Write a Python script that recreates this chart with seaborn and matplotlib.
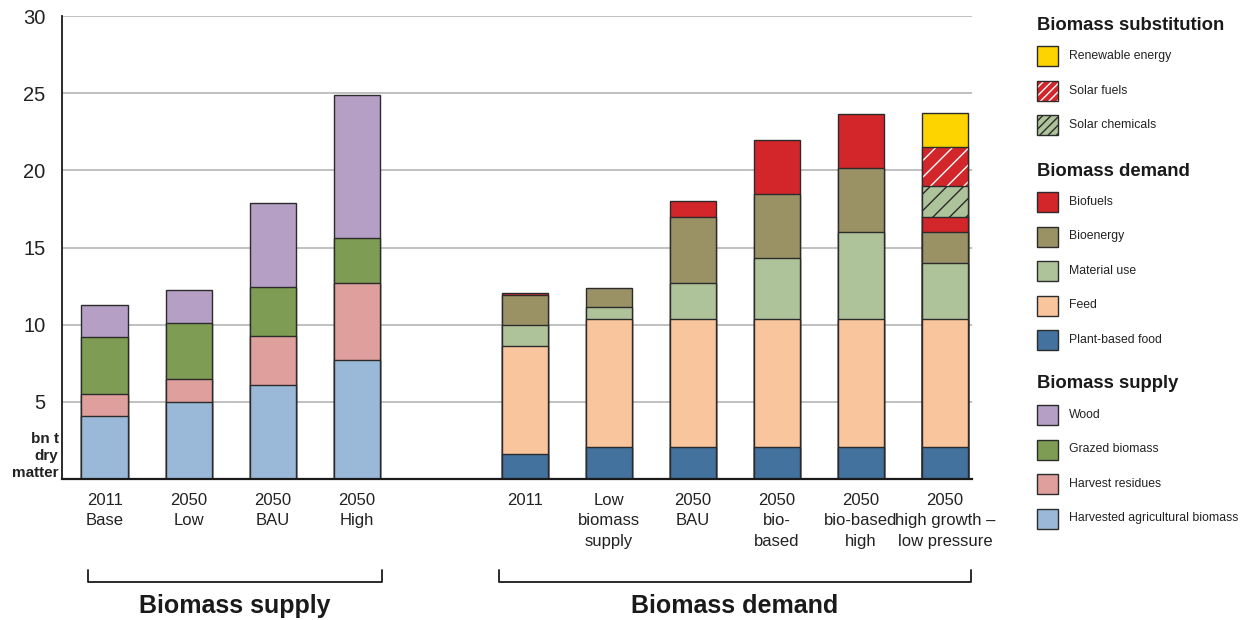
import pandas as pd
import seaborn as sns
import matplotlib.pyplot as plt
from matplotlib.patches import Rectangle

# scenario labels (x axis)
supply_labels = ['2011\nBase', '2050\nLow', '2050\nBAU', '2050\nHigh']
demand_labels = ['2011', 'Low\nbiomass\nsupply', '2050\nBAU', '2050\nbio-\nbased',
                 '2050\nbio-based\nhigh', '2050\nhigh growth –\nlow pressure']

# biomass supply, bn t dry matter (stacked bottom to top)
harvested_agri = [4.1, 5.0, 6.1, 7.7]
harvest_residues = [1.4, 1.5, 3.15, 5.0]
grazed_biomass = [3.7, 3.6, 3.2, 2.9]
wood = [2.1, 2.15, 5.45, 9.3]

# biomass demand + substitution (stacked bottom to top)
plant_food = [1.6, 2.1, 2.1, 2.1, 2.1, 2.1]
feed = [7.05, 8.25, 8.25, 8.25, 8.25, 8.25]
material_use = [1.3, 0.8, 2.35, 3.95, 5.65, 3.65]
bioenergy = [2.0, 1.2, 4.3, 4.15, 4.15, 2.0]
biofuels = [0.13, 0, 1.0, 3.5, 3.5, 1.0]
solar_chemicals = [0, 0, 0, 0, 0, 2.0]
solar_fuels = [0, 0, 0, 0, 0, 2.5]
renewable_energy = [0, 0, 0, 0, 0, 2.2]

EDGE = '#2b2b2b'
# name: (face colour, hatch, hatch colour)
styles = {
    'Renewable energy': ('#fdd300', None, None),
    'Solar fuels': ('#d3262a', '//', 'white'),
    'Solar chemicals': ('#adc39a', '//', '#2b2b2b'),
    'Biofuels': ('#d3262a', None, None),
    'Bioenergy': ('#9a9165', None, None),
    'Material use': ('#aec39a', None, None),
    'Feed': ('#f9c59d', None, None),
    'Plant-based food': ('#42729d', None, None),
    'Wood': ('#b69fc4', None, None),
    'Grazed biomass': ('#7e9c53', None, None),
    'Harvest residues': ('#df9f9c', None, None),
    'Harvested agricultural biomass': ('#9ab9d8', None, None),
}

supply_keys = ['supply|' + s for s in supply_labels]
demand_keys = ['demand|' + s for s in demand_labels]
order = supply_keys + ['gap'] + demand_keys
tick_labels = supply_labels + [''] + demand_labels

layers = [
    ('Harvested agricultural biomass', supply_keys, harvested_agri),
    ('Harvest residues', supply_keys, harvest_residues),
    ('Grazed biomass', supply_keys, grazed_biomass),
    ('Wood', supply_keys, wood),
    ('Plant-based food', demand_keys, plant_food),
    ('Feed', demand_keys, feed),
    ('Material use', demand_keys, material_use),
    ('Bioenergy', demand_keys, bioenergy),
    ('Biofuels', demand_keys, biofuels),
    ('Solar chemicals', demand_keys, solar_chemicals),
    ('Solar fuels', demand_keys, solar_fuels),
    ('Renewable energy', demand_keys, renewable_energy),
]

rows = []
for i, (name, keys, vals) in enumerate(layers):
    for k, v in zip(keys, vals):
        rows.append({'scenario': k, 'component': name, 'layer': i, 'value': v})
df = pd.DataFrame(rows).sort_values(['scenario', 'layer'])
df['top'] = df.groupby('scenario')['value'].cumsum()

sns.set_theme(style='white')
plt.rcParams['font.family'] = ['Liberation Sans', 'DejaVu Sans']
plt.rcParams['hatch.linewidth'] = 1.0

fig = plt.figure(figsize=(12.44, 6.2), dpi=100)
ax = fig.add_axes([62 / 1244, 1 - 479 / 620, (972 - 62) / 1244, (479 - 16) / 620])

# draw cumulative tops from the top layer down so lower layers cover them
for name, keys, vals in reversed(layers):
    sub = df[(df['component'] == name) & (df['value'] > 0)]
    face, hatch, hcol = styles[name]
    if hatch:
        sns.barplot(data=sub, x='scenario', y='top', order=order, color=face,
                    saturation=1, width=0.556, errorbar=None, edgecolor=hcol,
                    linewidth=0, hatch=hatch, ax=ax)
        sns.barplot(data=sub, x='scenario', y='top', order=order, color=EDGE,
                    fill=False, saturation=1, width=0.556, errorbar=None,
                    linewidth=1.0, ax=ax)
    else:
        sns.barplot(data=sub, x='scenario', y='top', order=order, color=face,
                    saturation=1, width=0.556, errorbar=None, edgecolor=EDGE,
                    linewidth=1.0, ax=ax)

ax.set_xlim(-0.51, 10.32)
ax.set_ylim(0, 30)
ax.set_yticks([5, 10, 15, 20, 25, 30])
ax.set_xticks(range(len(order)))
ax.set_xticklabels(tick_labels, fontsize=12, linespacing=1.45)
ax.tick_params(axis='x', length=0, pad=10, colors='#222222')
ax.tick_params(axis='y', length=0, pad=12, labelsize=14.5, colors='#222222')
ax.set_xlabel('')
ax.set_ylabel('')
ax.set_axisbelow(True)
ax.grid(axis='y', color='#b5b5b5', linewidth=1.2)
ax.grid(axis='x', visible=False)
for side in ['top', 'right']:
    ax.spines[side].set_visible(False)
ax.spines['left'].set_color('#1a1a1a')
ax.spines['left'].set_linewidth(1.3)
ax.spines['bottom'].set_color('#1a1a1a')
ax.spines['bottom'].set_linewidth(1.6)

ax.annotate('bn t\ndry\nmatter', xy=(0, 0), xycoords='axes fraction',
            xytext=(-2.5, -1), textcoords='offset points', ha='right', va='bottom',
            fontsize=11, fontweight='bold', linespacing=1.3, color='#222222')

# overlay in pixel coordinates for brackets and legend
ov = fig.add_axes([0, 0, 1, 1])
ov.set_xlim(0, 1244)
ov.set_ylim(620, 0)
ov.axis('off')

for x0, x1, xc, title in [(88, 382, 235, 'Biomass supply'), (499, 971, 735, 'Biomass demand')]:
    ov.plot([x0, x0, x1, x1], [570, 582, 582, 570], color='#1a1a1a', linewidth=1.3)
    ov.text(xc, 606, title, ha='center', va='center', fontsize=18,
            fontweight='bold', color='#1a1a1a')

groups = [
    ('Biomass substitution', 25, ['Renewable energy', 'Solar fuels', 'Solar chemicals']),
    ('Biomass demand', 171, ['Biofuels', 'Bioenergy', 'Material use', 'Feed', 'Plant-based food']),
    ('Biomass supply', 384, ['Wood', 'Grazed biomass', 'Harvest residues',
                             'Harvested agricultural biomass']),
]
for header, hy, names in groups:
    ov.text(1037, hy, header, ha='left', va='center', fontsize=13.3,
            fontweight='bold', color='#1a1a1a')
    for j, name in enumerate(names):
        y = hy + 31 + j * 34.5
        face, hatch, hcol = styles[name]
        if hatch:
            ov.add_patch(Rectangle((1037, y - 10), 21, 20, facecolor=face,
                                   edgecolor=hcol, hatch='////', linewidth=0))
            ov.add_patch(Rectangle((1037, y - 10), 21, 20, facecolor='none',
                                   edgecolor=EDGE, linewidth=1.0))
        else:
            ov.add_patch(Rectangle((1037, y - 10), 21, 20, facecolor=face,
                                   edgecolor=EDGE, linewidth=1.0))
        ov.text(1069, y, name, ha='left', va='center', fontsize=8.8,
                color='#222222')

fig.savefig('out.png', dpi=100)
